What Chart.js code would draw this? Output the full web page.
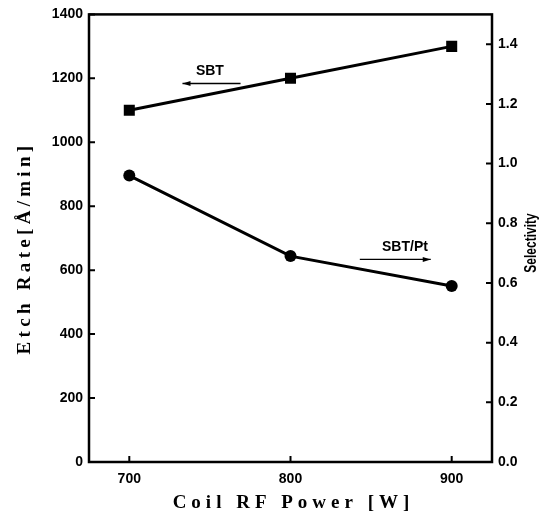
<!DOCTYPE html>
<html>
<head>
<meta charset="utf-8">
<script src="https://cdn.jsdelivr.net/npm/chart.js@4.4.1/dist/chart.umd.min.js"></script>
<style>
  html, body { margin: 0; padding: 0; background: #fff; }
  #wrap { width: 547px; height: 520px; position: relative; }
</style>
</head>
<body>
<div id="wrap"><canvas id="chart"></canvas></div>
<script>
// data
const powers = [700, 800, 900];
const etchRate = [1100, 1200, 1300];        // SBT, left axis
const selectivity = [0.96, 0.69, 0.59];     // SBT/Pt, right axis
const leftTicks = [0, 200, 400, 600, 800, 1000, 1200, 1400];
const rightTicks = [0, 0.2, 0.4, 0.6, 0.8, 1.0, 1.2, 1.4];

const tickFont = { family: 'Liberation Sans, Arial, sans-serif', size: 14, weight: 'bold' };
const serifTitle = 'bold 19px "Liberation Serif", "Times New Roman", serif';

function arrow(ctx, x1, y1, x2, y2) {
    // line from (x1,y1) with head at (x2,y2)
    ctx.beginPath();
    ctx.moveTo(x1, y1);
    ctx.lineTo(x2, y2);
    ctx.lineWidth = 1.4;
    ctx.stroke();
    let dir = Math.sign(x2 - x1);
    ctx.beginPath();
    ctx.moveTo(x2, y2);
    ctx.lineTo(x2 - dir * 8, y2 - 2.5);
    ctx.lineTo(x2 - dir * 8, y2 + 2.5);
    ctx.closePath();
    ctx.fill();
}

// frame, inward ticks, axis titles and labels
const decor = {
    id: 'decor',
    afterDraw(chart) {
        const ctx = chart.ctx;
        const a = chart.chartArea;
        const sx = chart.scales.x, sy = chart.scales.y, sy1 = chart.scales.y1;
        ctx.save();
        ctx.strokeStyle = '#000';
        ctx.fillStyle = '#000';
        ctx.lineWidth = 2.5;
        ctx.strokeRect(a.left, a.top, a.right - a.left, a.bottom - a.top);

        ctx.lineWidth = 2;
        ctx.beginPath();
        powers.forEach(v => {
            let px = sx.getPixelForValue(v);
            ctx.moveTo(px, a.bottom); ctx.lineTo(px, a.bottom - 6);
        });
        leftTicks.forEach(v => {
            let py = sy.getPixelForValue(v);
            ctx.moveTo(a.left, py); ctx.lineTo(a.left + 6, py);
        });
        rightTicks.forEach(v => {
            let py = sy1.getPixelForValue(v);
            ctx.moveTo(a.right, py); ctx.lineTo(a.right - 6, py);
        });
        ctx.stroke();

        // axis titles
        ctx.textAlign = 'center';
        ctx.textBaseline = 'middle';
        ctx.font = serifTitle;
        ctx.letterSpacing = '5px';
        ctx.fillText('Coil RF Power [W]', (a.left + a.right) / 2 + 3, 503);

        ctx.save();
        ctx.translate(25, 250);
        ctx.rotate(-Math.PI / 2);
        ctx.letterSpacing = '4.3px';
        ctx.fillText('Etch Rate[Å/min]', 2, 0);
        ctx.restore();

        ctx.save();
        ctx.translate(532, 243);
        ctx.rotate(-Math.PI / 2);
        ctx.scale(0.75, 1);
        ctx.letterSpacing = '0px';
        ctx.font = 'bold 16px "Liberation Sans", Arial, sans-serif';
        ctx.fillText('Selectivity', 0, 0);
        ctx.restore();

        // series labels with arrows
        ctx.letterSpacing = '0px';
        ctx.font = 'bold 14px "Liberation Sans", Arial, sans-serif';
        ctx.fillText('SBT', sx.getPixelForValue(750), sy.getPixelForValue(1222));
        arrow(ctx, sx.getPixelForValue(769), sy.getPixelForValue(1184),
                   sx.getPixelForValue(733), sy.getPixelForValue(1184));
        ctx.fillText('SBT/Pt', sx.getPixelForValue(871), sy1.getPixelForValue(0.72));
        arrow(ctx, sx.getPixelForValue(843), sy1.getPixelForValue(0.679),
                   sx.getPixelForValue(887), sy1.getPixelForValue(0.679));
        ctx.restore();
    }
};

new Chart(document.getElementById('chart'), {
    type: 'line',
    data: {
        datasets: [
            {
                label: 'SBT',
                data: powers.map((p, i) => ({ x: p, y: etchRate[i] })),
                yAxisID: 'y',
                borderColor: '#000',
                backgroundColor: '#000',
                borderWidth: 3,
                pointStyle: 'rect',
                pointRadius: 7.8,
                pointBorderWidth: 0
            },
            {
                label: 'SBT/Pt',
                data: powers.map((p, i) => ({ x: p, y: selectivity[i] })),
                yAxisID: 'y1',
                borderColor: '#000',
                backgroundColor: '#000',
                borderWidth: 3,
                pointStyle: 'circle',
                pointRadius: 6,
                pointBorderWidth: 0
            }
        ]
    },
    options: {
        responsive: true,
        maintainAspectRatio: false,
        animation: false,
        layout: { padding: { top: 14, left: 0, right: 0, bottom: 0 } },
        plugins: { legend: { display: false }, tooltip: { enabled: false } },
        scales: {
            x: {
                type: 'linear',
                min: 675, max: 925,
                grid: { display: false, drawTicks: false },
                border: { display: false },
                afterBuildTicks: s => { s.ticks = powers.map(v => ({ value: v })); },
                afterFit: s => { s.height = 58; },
                ticks: { color: '#000', font: tickFont, padding: 9, maxRotation: 0, callback: v => String(v) }
            },
            y: {
                position: 'left',
                min: 0, max: 1400,
                grid: { display: false, drawTicks: false },
                border: { display: false },
                afterBuildTicks: s => { s.ticks = leftTicks.map(v => ({ value: v })); },
                afterFit: s => { s.width = 89; },
                ticks: { color: '#000', font: tickFont, padding: 6, callback: v => String(v) }
            },
            y1: {
                position: 'right',
                min: 0, max: 1.5,
                grid: { display: false, drawTicks: false },
                border: { display: false },
                afterBuildTicks: s => { s.ticks = rightTicks.map(v => ({ value: v })); },
                afterFit: s => { s.width = 55; },
                ticks: { color: '#000', font: tickFont, padding: 6, callback: v => v.toFixed(1) }
            }
        }
    },
    plugins: [decor]
});
</script>
</body>
</html>
